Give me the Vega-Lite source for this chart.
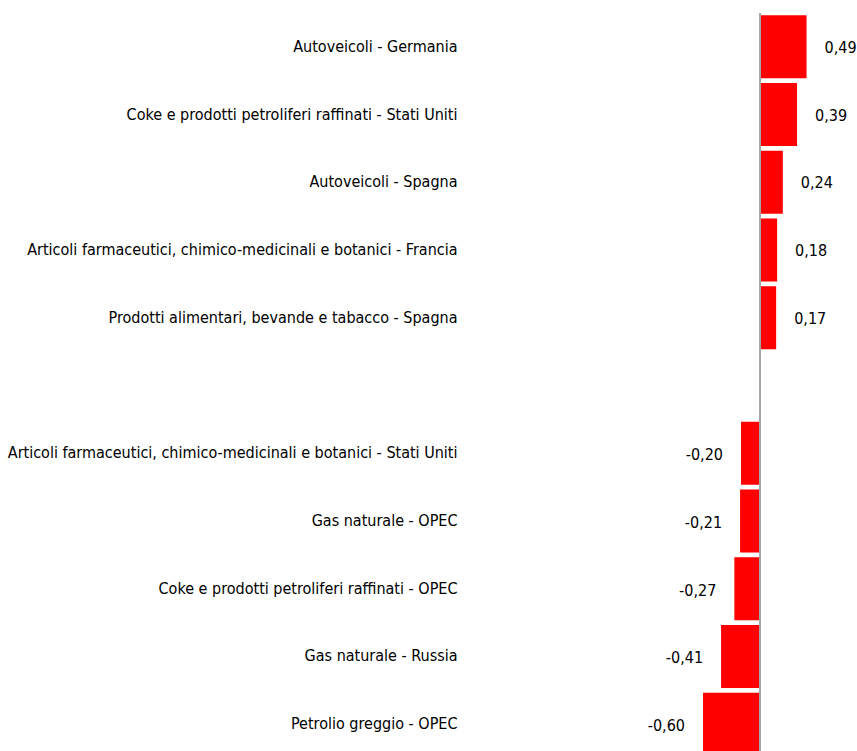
{
  "$schema": "https://vega.github.io/schema/vega-lite/v6.json",
  "autosize": "none",
  "width": 397,
  "height": 745,
  "padding": {"left": 460, "top": 13, "right": 0, "bottom": 0},
  "background": "white",
  "config": {
    "view": {"stroke": null},
    "locale": {"number": {"decimal": ",", "thousands": ".", "grouping": [3], "currency": ["€", ""], "minus": "-"}},
    "font": "DejaVu Sans Condensed, Liberation Sans, sans-serif"
  },
  "data": {
    "values": [
      {"cat": "Autoveicoli - Germania", "value": 0.49},
      {"cat": "Coke e prodotti petroliferi raffinati - Stati Uniti", "value": 0.39},
      {"cat": "Autoveicoli - Spagna", "value": 0.24},
      {"cat": "Articoli farmaceutici, chimico-medicinali e botanici - Francia", "value": 0.18},
      {"cat": "Prodotti alimentari, bevande e tabacco - Spagna", "value": 0.17},
      {"cat": "Articoli farmaceutici, chimico-medicinali e botanici - Stati Uniti", "value": -0.20},
      {"cat": "Gas naturale - OPEC", "value": -0.21},
      {"cat": "Coke e prodotti petroliferi raffinati - OPEC", "value": -0.27},
      {"cat": "Gas naturale - Russia", "value": -0.41},
      {"cat": "Petrolio greggio - OPEC", "value": -0.60}
    ]
  },
  "encoding": {
    "y": {
      "field": "cat",
      "type": "nominal",
      "sort": null,
      "scale": {
        "domain": [
          "Autoveicoli - Germania",
          "Coke e prodotti petroliferi raffinati - Stati Uniti",
          "Autoveicoli - Spagna",
          "Articoli farmaceutici, chimico-medicinali e botanici - Francia",
          "Prodotti alimentari, bevande e tabacco - Spagna",
          " ",
          "Articoli farmaceutici, chimico-medicinali e botanici - Stati Uniti",
          "Gas naturale - OPEC",
          "Coke e prodotti petroliferi raffinati - OPEC",
          "Gas naturale - Russia",
          "Petrolio greggio - OPEC"
        ],
        "paddingInner": 0.07,
        "paddingOuter": 0.035
      },
      "axis": {
        "title": null,
        "domain": false,
        "ticks": false,
        "labelPadding": 3,
        "labelLimit": 0,
        "labelFontSize": 16,
        "labelColor": "#000000",
        "labelFont": "DejaVu Sans Condensed, Liberation Sans, sans-serif"
      }
    }
  },
  "layer": [
    {
      "mark": {"type": "bar", "color": "#ff0000"},
      "encoding": {
        "x": {
          "field": "value",
          "type": "quantitative",
          "scale": {"domain": [-3.158, 1.021], "nice": false, "zero": false},
          "axis": null
        }
      }
    },
    {
      "mark": {"type": "rule", "color": "#a6a6a6", "strokeWidth": 1},
      "encoding": {"x": {"datum": 0}, "y": null}
    },
    {
      "transform": [{"filter": "datum.value >= 0"}],
      "mark": {"type": "text", "align": "left", "baseline": "middle", "dx": 18, "dy": 1, "fontSize": 16, "color": "#000000"},
      "encoding": {
        "x": {"field": "value", "type": "quantitative"},
        "text": {"field": "value", "type": "quantitative", "format": ".2f"}
      }
    },
    {
      "transform": [{"filter": "datum.value < 0"}],
      "mark": {"type": "text", "align": "right", "baseline": "middle", "dx": -18, "dy": 2, "fontSize": 16, "color": "#000000"},
      "encoding": {
        "x": {"field": "value", "type": "quantitative"},
        "text": {"field": "value", "type": "quantitative", "format": ".2f"}
      }
    }
  ]
}
